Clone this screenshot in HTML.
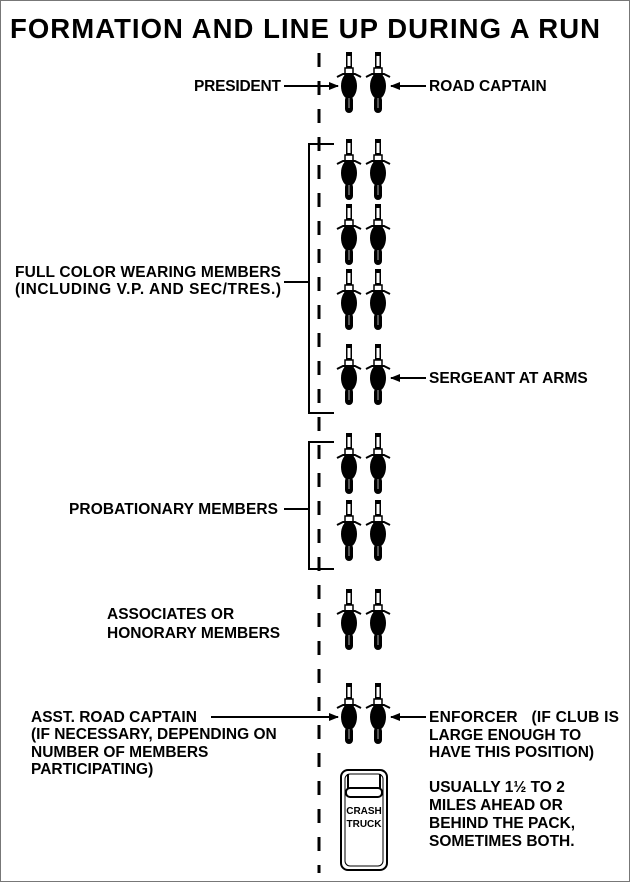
<!DOCTYPE html>
<html><head><style>
body{margin:0;background:#fff}
.w{position:relative;width:628px;height:880px;border:1px solid #777;overflow:hidden;background:#fff}
svg{position:absolute;left:0;top:0}
text{font-family:"Liberation Sans",sans-serif;font-weight:bold;fill:#000}
</style></head><body><div class="w">
<svg width="630" height="882" viewBox="0 0 630 882">
<defs>
<g id="b">
<rect x="-3" y="-34" width="6" height="18" fill="#000"/>
<rect x="-1.5" y="-30" width="3" height="10" fill="#fff"/>
<rect x="-4" y="-18" width="8" height="8" fill="#fff" stroke="#000" stroke-width="1.5"/>
<path d="M-12 -9 L-6 -12 L6 -12 L12 -9" fill="none" stroke="#000" stroke-width="2"/>
<ellipse cx="0" cy="0" rx="8" ry="13" fill="#000"/>
<rect x="-4" y="10" width="8" height="17" rx="4" fill="#000"/>
<rect x="-1" y="12" width="2" height="10" fill="#555"/>
</g>
<marker id="a" markerWidth="10" markerHeight="8" refX="9" refY="4" orient="auto" markerUnits="userSpaceOnUse"><path d="M0 0 L10 4 L0 8 Z" fill="#000"/></marker>
</defs>
<text x="9" y="37" font-size="27.5" textLength="590">FORMATION AND LINE UP DURING A RUN</text>
<line x1="318" y1="52" x2="318" y2="872" stroke="#000" stroke-width="3" stroke-dasharray="14 14"/>
<g fill="none" stroke="#000" stroke-width="2">
<path d="M333 143 H308 V412 H333"/>
<path d="M333 441 H308 V568 H333"/>
<line x1="283" y1="281" x2="308" y2="281"/>
<line x1="283" y1="508" x2="308" y2="508"/>
<line x1="283" y1="85" x2="337" y2="85" marker-end="url(#a)"/>
<line x1="425" y1="85" x2="390" y2="85" marker-end="url(#a)"/>
<line x1="425" y1="377" x2="390" y2="377" marker-end="url(#a)"/>
<line x1="210" y1="716" x2="337" y2="716" marker-end="url(#a)"/>
<line x1="425" y1="716" x2="390" y2="716" marker-end="url(#a)"/>
</g>
<use href="#b" x="348" y="85"/><use href="#b" x="377" y="85"/>
<use href="#b" x="348" y="172"/><use href="#b" x="377" y="172"/>
<use href="#b" x="348" y="237"/><use href="#b" x="377" y="237"/>
<use href="#b" x="348" y="302"/><use href="#b" x="377" y="302"/>
<use href="#b" x="348" y="377"/><use href="#b" x="377" y="377"/>
<use href="#b" x="348" y="466"/><use href="#b" x="377" y="466"/>
<use href="#b" x="348" y="533"/><use href="#b" x="377" y="533"/>
<use href="#b" x="348" y="622"/><use href="#b" x="377" y="622"/>
<use href="#b" x="348" y="716"/><use href="#b" x="377" y="716"/>
<g fill="none" stroke="#000" stroke-width="2">
<rect x="340" y="769" width="46" height="100" rx="7"/>
<rect x="344" y="773" width="38" height="92" rx="5" stroke-width="1"/>
<path d="M347 773 V788 M379 773 V788"/>
<rect x="345" y="787" width="36" height="9" rx="4"/>
</g>
<text x="363" y="813" font-size="10" text-anchor="middle">CRASH</text>
<text x="363" y="826" font-size="10" text-anchor="middle">TRUCK</text>
<g font-size="15.5">
<text x="193" y="90" textLength="87">PRESIDENT</text>
<text x="428" y="90">ROAD CAPTAIN</text>
<text x="14" y="276" textLength="266">FULL COLOR WEARING MEMBERS</text>
<text x="14" y="293" textLength="266">(INCLUDING V.P. AND SEC/TRES.)</text>
<text x="428" y="382">SERGEANT AT ARMS</text>
<text x="68" y="513" textLength="209">PROBATIONARY MEMBERS</text>
<text x="106" y="618">ASSOCIATES OR</text>
<text x="106" y="637">HONORARY MEMBERS</text>
<text x="30" y="721">ASST. ROAD CAPTAIN</text>
<text x="30" y="738">(IF NECESSARY, DEPENDING ON</text>
<text x="30" y="756">NUMBER OF MEMBERS</text>
<text x="30" y="773">PARTICIPATING)</text>
<text x="428" y="721" textLength="190">ENFORCER &#160;&#160;(IF CLUB IS</text>
<text x="428" y="739">LARGE ENOUGH TO</text>
<text x="428" y="756">HAVE THIS POSITION)</text>
<text x="428" y="791">USUALLY 1½ TO 2</text>
<text x="428" y="809">MILES AHEAD OR</text>
<text x="428" y="827">BEHIND THE PACK,</text>
<text x="428" y="845">SOMETIMES BOTH.</text>
</g>
</svg></div></body></html>
